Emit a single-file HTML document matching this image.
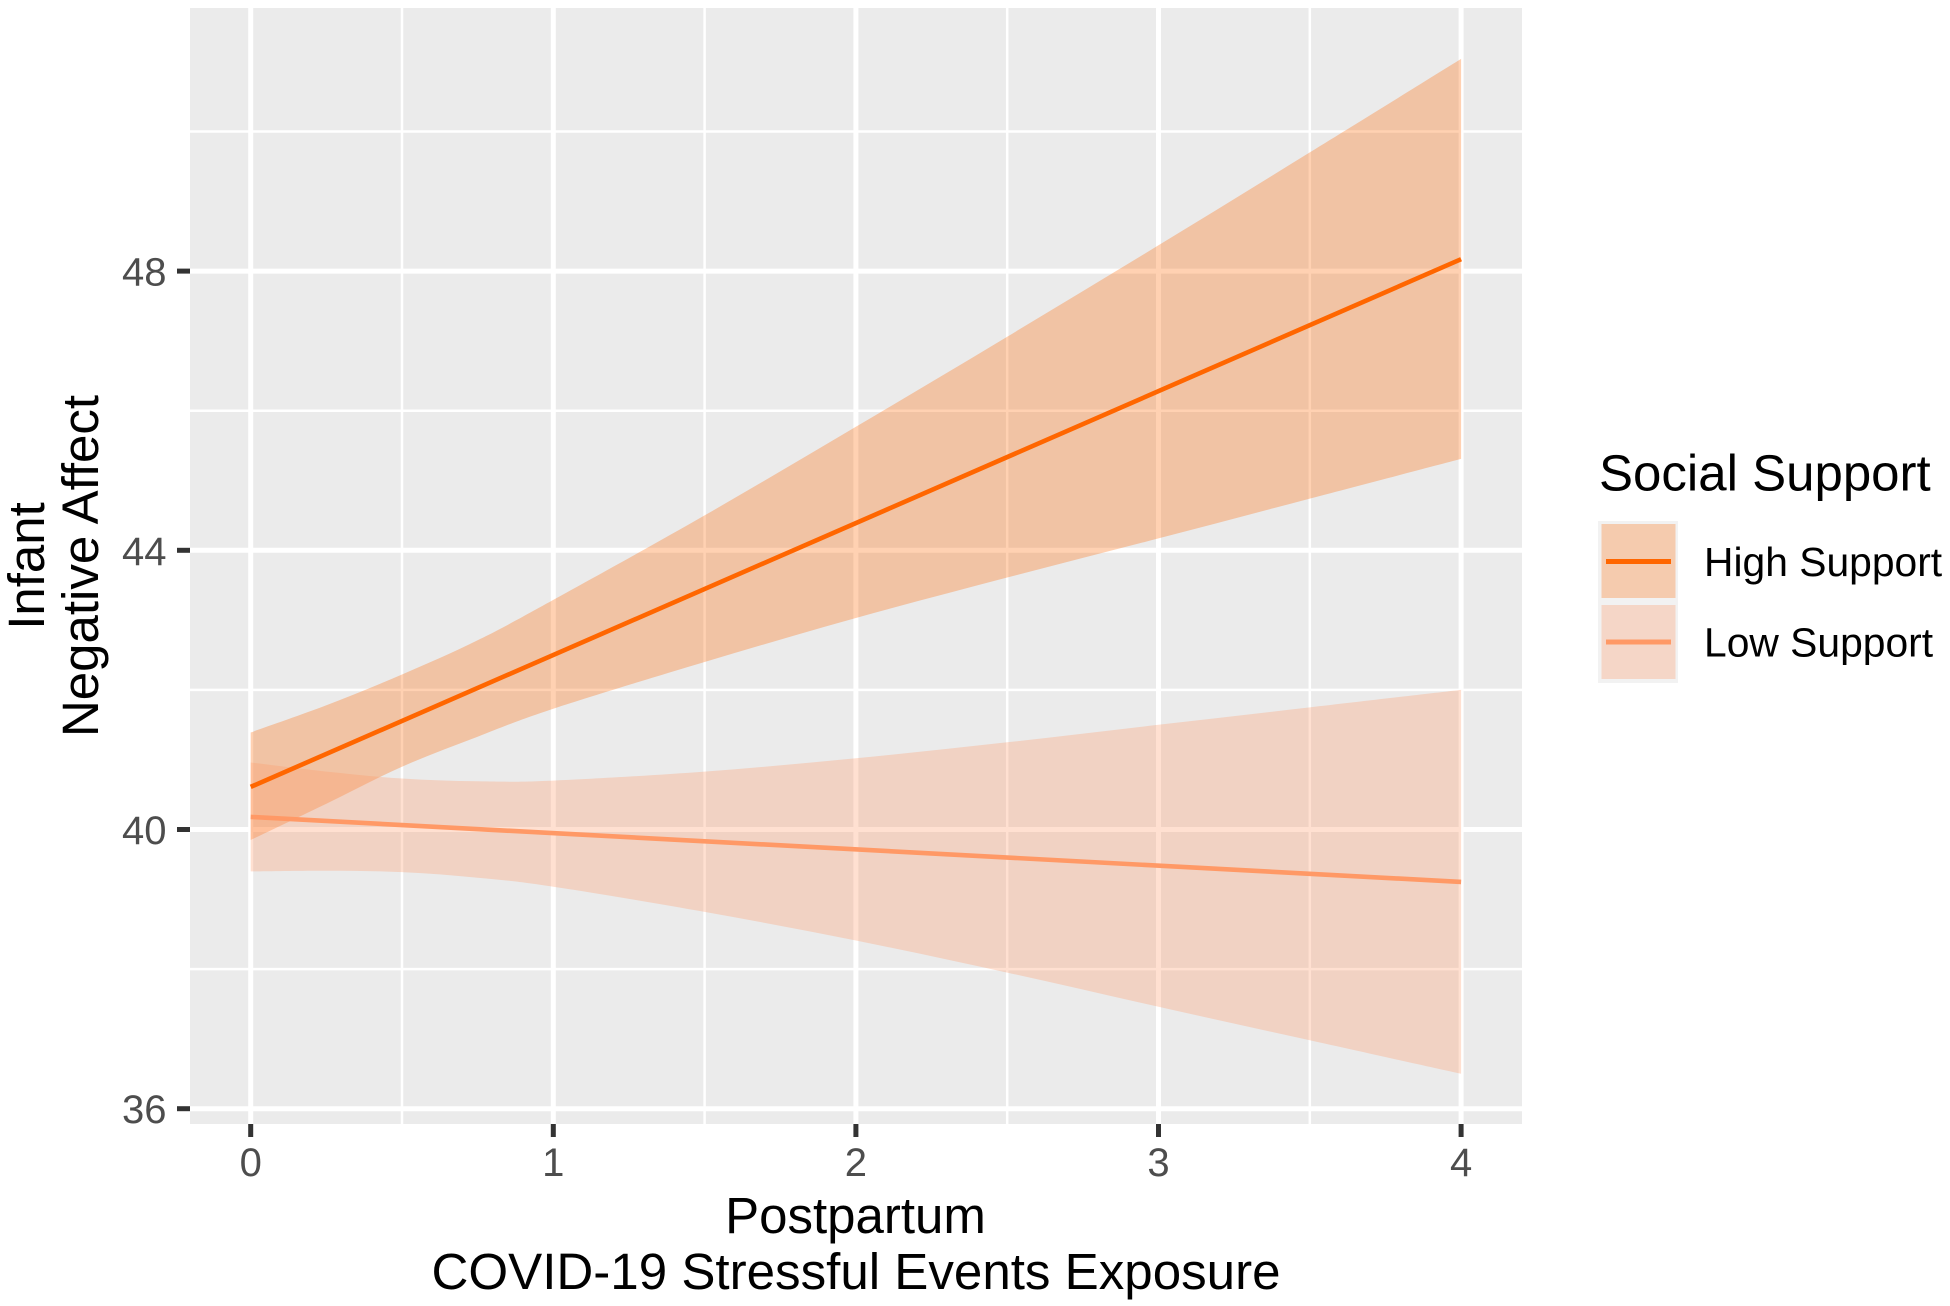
<!DOCTYPE html>
<html lang="en">
<head>
<meta charset="utf-8">
<title>Infant Negative Affect by Postpartum COVID-19 Stressful Events Exposure</title>
<style>
html,body{margin:0;padding:0;background:#fff;width:1950px;height:1306px;overflow:hidden}
svg{display:block}
text{font-family:"Liberation Sans",Arial,sans-serif}
</style>
</head>
<body>
<svg id="chart" xmlns="http://www.w3.org/2000/svg" width="1950" height="1306" viewBox="0 0 1950 1306">
  <rect x="0" y="0" width="1950" height="1306" fill="#ffffff"/>
  <rect x="190" y="8" width="1332" height="1116" fill="#ebebeb"/>
  <g id="grid"></g>
  <g id="marks"></g>
  <g id="axes"></g>

  <text x="855.5" y="1233" text-anchor="middle" font-size="51" fill="#000">Postpartum</text>
  <text x="856" y="1289" text-anchor="middle" font-size="51.1" fill="#000">COVID-19 Stressful Events Exposure</text>
  <text transform="translate(44,566) rotate(-90)" text-anchor="middle" font-size="51" fill="#000">Infant</text>
  <text transform="translate(98,566) rotate(-90)" text-anchor="middle" font-size="51" fill="#000">Negative Affect</text>

  <g>
    <text x="1599" y="490.5" font-size="51" fill="#000">Social Support</text>
    <g>
      <rect x="1598" y="521" width="80" height="81" fill="#f2f2f2"/>
      <rect x="1601.5" y="524" width="74" height="74" fill="#f5cbae"/>
      <rect x="1606" y="559" width="65" height="5" fill="#ff6600"/>
      <text x="1704" y="576" font-size="40.8" fill="#000">High Support</text>
    </g>
    <g>
      <rect x="1598" y="602" width="80" height="81" fill="#f2f2f2"/>
      <rect x="1601.5" y="605" width="74" height="74" fill="#f5d6c7"/>
      <rect x="1606" y="639.5" width="65" height="5" fill="#ff9966"/>
      <text x="1704" y="656.5" font-size="40.8" fill="#000">Low Support</text>
    </g>
  </g>
</svg>
<script>
var xMajorTicks = [0, 1, 2, 3, 4];
var xMinorTicks = [0.5, 1.5, 2.5, 3.5];
var yMajorTicks = [36, 40, 44, 48];
var yMinorTicks = [38, 42, 46, 50];

var lineX = [0, 4];
var highFit = [40.61, 48.17];
var lowFit = [40.18, 39.25];

var bandX = [0, 0.25, 0.5, 0.75, 1, 1.5, 2, 2.5, 3, 3.5, 4];
var highUpper = [41.39, 41.78, 42.22, 42.71, 43.29, 44.5, 45.77, 47.06, 48.37, 49.7, 51.04];
var highLower = [39.85, 40.37, 40.9, 41.33, 41.73, 42.4, 43.03, 43.61, 44.17, 44.74, 45.31];
var lowUpper = [40.96, 40.83, 40.73, 40.69, 40.7, 40.83, 41.02, 41.25, 41.5, 41.75, 42.0];
var lowLower = [39.4, 39.41, 39.39, 39.31, 39.18, 38.82, 38.41, 37.95, 37.46, 36.98, 36.5];

var NS = 'http://www.w3.org/2000/svg';
function xScale(v) { return 250.7 + v * 302.6; }
function yScale(v) { return 829.5 - (v - 40) * 69.8; }
function make(parent, tag, props) {
  var node = document.createElementNS(NS, tag);
  for (var k in props) node.setAttribute(k, props[k]);
  parent.appendChild(node);
  return node;
}
function curveSegments(pts) {
  var d = '';
  for (var i = 0; i < pts.length - 1; i++) {
    var p0 = pts[Math.max(i - 1, 0)], p1 = pts[i], p2 = pts[i + 1], p3 = pts[Math.min(i + 2, pts.length - 1)];
    var c1x = p1[0] + (p2[0] - p0[0]) / 6, c1y = p1[1] + (p2[1] - p0[1]) / 6;
    var c2x = p2[0] - (p3[0] - p1[0]) / 6, c2y = p2[1] - (p3[1] - p1[1]) / 6;
    d += ' C' + c1x.toFixed(1) + ' ' + c1y.toFixed(1) + ' ' + c2x.toFixed(1) + ' ' + c2y.toFixed(1) + ' ' + p2[0].toFixed(1) + ' ' + p2[1].toFixed(1);
  }
  return d;
}
function bandPath(xs, up, low) {
  var top = xs.map(function (v, i) { return [xScale(v), yScale(up[i])]; });
  var bottom = xs.map(function (v, i) { return [xScale(v), yScale(low[i])]; }).reverse();
  return 'M' + top[0][0].toFixed(1) + ' ' + top[0][1].toFixed(1) + curveSegments(top) +
    ' L' + bottom[0][0].toFixed(1) + ' ' + bottom[0][1].toFixed(1) + curveSegments(bottom) + ' Z';
}
function linePoints(xs, ys) {
  var pts = [];
  for (var i = 0; i < xs.length; i++) pts.push(xScale(xs[i]).toFixed(1) + ',' + yScale(ys[i]).toFixed(1));
  return pts.join(' ');
}
var grid = document.getElementById('grid');
var marks = document.getElementById('marks');
var axes = document.getElementById('axes');
var el;

yMinorTicks.forEach(function (v) {
  var el = make(grid, 'line', {x1: 190, x2: 1522, y1: yScale(v), y2: yScale(v), stroke: '#fff', 'stroke-width': 2.5});
  
  
});
xMinorTicks.forEach(function (v) {
  var el = make(grid, 'line', {x1: xScale(v), x2: xScale(v), y1: 8, y2: 1124, stroke: '#fff', 'stroke-width': 2.5});
  
  
});
yMajorTicks.forEach(function (v) {
  var el = make(grid, 'line', {x1: 190, x2: 1522, y1: yScale(v), y2: yScale(v), stroke: '#fff', 'stroke-width': 5});
  
  
});
xMajorTicks.forEach(function (v) {
  var el = make(grid, 'line', {x1: xScale(v), x2: xScale(v), y1: 8, y2: 1124, stroke: '#fff', 'stroke-width': 5});
  
  
});

el = make(marks, 'path', {d: bandPath(bandX, highUpper, highLower), fill: '#ff6600', 'fill-opacity': 0.3});



el = make(marks, 'path', {d: bandPath(bandX, lowUpper, lowLower), fill: '#ff9966', 'fill-opacity': 0.3});



el = make(marks, 'polyline', {points: linePoints(lineX, highFit), fill: 'none', stroke: '#ff6600', 'stroke-width': 4.6});



el = make(marks, 'polyline', {points: linePoints(lineX, lowFit), fill: 'none', stroke: '#ff9966', 'stroke-width': 4.6});



xMajorTicks.forEach(function (v) {
  var tick = make(axes, 'line', {x1: xScale(v), x2: xScale(v), y1: 1124, y2: 1137, stroke: '#333', 'stroke-width': 5});
  
  
  var label = make(axes, 'text', {x: xScale(v), y: 1176, 'text-anchor': 'middle', 'font-size': 40, fill: '#4d4d4d'});
  
  
  label.textContent = v;
});
yMajorTicks.forEach(function (v) {
  var tick = make(axes, 'line', {x1: 177, x2: 190, y1: yScale(v), y2: yScale(v), stroke: '#333', 'stroke-width': 5});
  
  
  var label = make(axes, 'text', {x: 166.5, y: yScale(v) + 14.5, 'text-anchor': 'end', 'font-size': 40, fill: '#4d4d4d'});
  
  
  label.textContent = v;
});
</script>
</body>
</html>
